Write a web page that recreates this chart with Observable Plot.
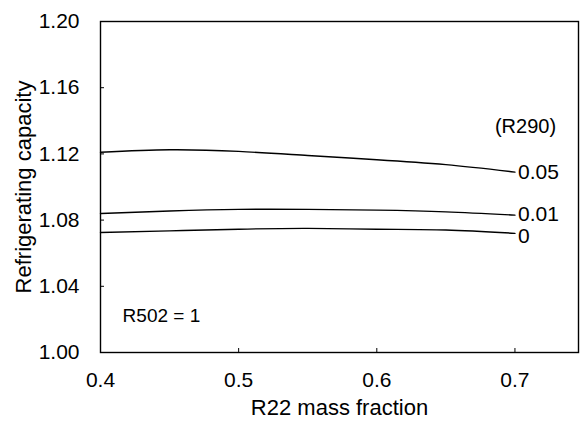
<!DOCTYPE html>
<html>
<head>
<meta charset="utf-8">
<script src="https://cdn.jsdelivr.net/npm/d3@7"></script>
<script src="https://cdn.jsdelivr.net/npm/@observablehq/plot@0.6"></script>
<style>
  html, body { margin: 0; padding: 0; background: #fff; }
  svg { display: block; }
</style>
</head>
<body>
<div id="chart"></div>
<script>
const fractions = [0.4, 0.45, 0.5, 0.55, 0.6, 0.65, 0.7];
const seriesNames = ["0.05", "0.01", "0"];
const cap005 = [1.121, 1.1225, 1.1215, 1.119, 1.1165, 1.1135, 1.109];
const cap001 = [1.084, 1.0855, 1.0865, 1.0865, 1.086, 1.085, 1.083];
const cap000 = [1.0725, 1.0735, 1.0745, 1.075, 1.0745, 1.074, 1.072];
const xTicks = [0.4, 0.5, 0.6, 0.7];
const yTicks = [1.00, 1.04, 1.08, 1.12, 1.16, 1.20];
const seriesLabels = [
  {x: 0.7, y: 1.109, text: "0.05"},
  {x: 0.7, y: 1.0835, text: "0.01"},
  {x: 0.7, y: 1.070, text: "0"}
];
const legendTitle = [{x: 0.7, y: 1.1365, text: "(R290)"}];
const note = [{x: 0.416, y: 1.022, text: "R502 = 1"}];

const allSeries = [cap005, cap001, cap000];
const rows = [];
allSeries.forEach((vals, i) => vals.forEach((v, j) => rows.push({series: seriesNames[i], x: fractions[j], y: v})));

const font = "Liberation Sans, Arial, sans-serif";
const chart = Plot.plot({
  width: 581,
  height: 424,
  marginLeft: 100,
  marginRight: 3,
  marginTop: 21,
  marginBottom: 72,
  style: {fontFamily: font, fontSize: "21px", color: "#000", background: "#fff"},
  x: {domain: [0.4, 0.746]},
  y: {domain: [1.0, 1.2]},
  marks: [
    Plot.frame({stroke: "#000", strokeWidth: 1.4}),
    Plot.axisX({ticks: xTicks, tickSize: -4, tickPadding: 24, tickFormat: d3.format(".1f"), label: null, fontSize: 21}),
    Plot.axisY({ticks: yTicks, tickSize: -4, tickPadding: 25, tickFormat: d3.format(".2f"), label: null, fontSize: 21}),
    Plot.text(["R22 mass fraction"], {frameAnchor: "bottom", dy: 62, fontSize: 22}),
    Plot.text(["Refrigerating capacity"], {frameAnchor: "left", textAnchor: "middle", dx: -77, rotate: -90, fontSize: 22}),
    Plot.line(rows, {x: "x", y: "y", z: "series", curve: "natural", stroke: "#000", strokeWidth: 1.4}),
    Plot.text(seriesLabels, {x: "x", y: "y", text: "text", textAnchor: "start", dx: 3, fontSize: 21}),
    Plot.text(legendTitle, {x: "x", y: "y", text: "text", textAnchor: "start", dx: -20, fontSize: 20}),
    Plot.text(note, {x: "x", y: "y", text: "text", textAnchor: "start", fontSize: 19})
  ]
});
document.getElementById("chart").appendChild(chart);
</script>
</body>
</html>
